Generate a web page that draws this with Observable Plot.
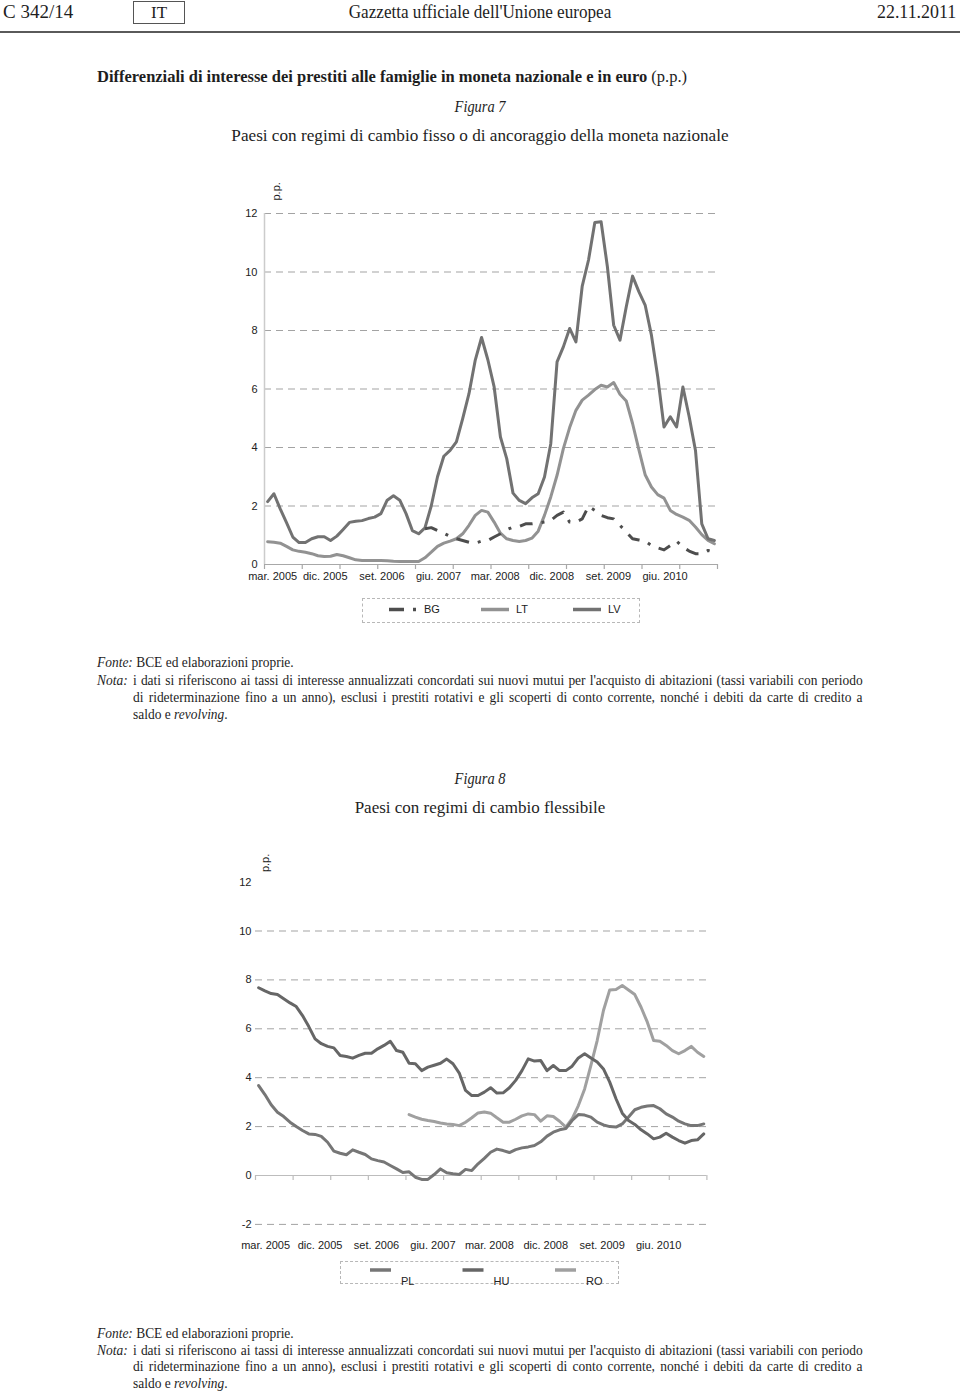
<!DOCTYPE html>
<html><head><meta charset="utf-8">
<script src="https://cdn.jsdelivr.net/npm/d3@7"></script>
<script src="https://cdn.jsdelivr.net/npm/@observablehq/plot@0.6"></script>
<style>
body{margin:0;background:#fff}
#page{position:relative;width:960px;height:1393px;overflow:hidden;font-family:"Liberation Serif","DejaVu Serif",serif;color:#1e1e1e}
.a{position:absolute;white-space:nowrap}
.l{transform-origin:left center}
.r{transform-origin:right center}
.c{left:0;width:960px;text-align:center;transform-origin:center}
.nl{position:absolute;left:133px;width:760px;font-size:14px;line-height:17px;white-space:nowrap;text-align:justify;text-align-last:justify;transform:scaleX(0.96);transform-origin:left center}
.nl.last{text-align:left;text-align-last:left}
.sm{font-size:14px;line-height:17px;transform:scaleX(0.96)}
.chart{position:absolute}
.legend{position:absolute;border:1px dashed #b8b8b8}
.legend svg{position:absolute;left:0;top:0;overflow:visible}
</style></head>
<body><div id="page">
<div class="a l" style="left:3px;top:0;font-size:19px;line-height:23px;transform:scaleX(1.0)">C 342/14</div>
<div class="a" style="left:133px;top:1px;width:50px;height:21px;border:1px solid #555;text-align:center;font-size:17px;line-height:21px">IT</div>
<div class="a c" style="top:0;font-size:19px;line-height:23px;transform:scaleX(0.9)">Gazzetta ufficiale dell'Unione europea</div>
<div class="a r" style="right:4px;top:0;font-size:19px;line-height:23px;transform:scaleX(0.94)">22.11.2011</div>
<div class="a" style="left:0;top:31px;width:960px;height:2px;background:#5a5a5a"></div>

<div class="a l" style="left:97px;top:67px;font-size:17px;line-height:20px;transform:scaleX(0.97)"><b>Differenziali di interesse dei prestiti alle famiglie in moneta nazionale e in euro</b> (p.p.)</div>
<div class="a c" style="top:97px;font-size:16px;line-height:20px;transform:scaleX(0.9)"><i>Figura 7</i></div>
<div class="a c" style="top:126px;font-size:17px;line-height:20px;transform:scaleX(1.01)">Paesi con regimi di cambio fisso o di ancoraggio della moneta nazionale</div>

<div id="chart7" class="chart" style="left:200px;top:185px"></div>
<div id="legend7" class="legend" style="left:362px;top:598px;width:276px;height:23px"></div>

<div class="a l sm" style="left:97px;top:654px"><i>Fonte:</i> BCE ed elaborazioni proprie.</div>
<div class="a l sm" style="left:97px;top:672px"><i>Nota:</i></div>
<div class="nl" style="top:672px">i dati si riferiscono ai tassi di interesse annualizzati concordati sui nuovi mutui per l'acquisto di abitazioni (tassi variabili con periodo</div>
<div class="nl" style="top:689px">di rideterminazione fino a un anno), esclusi i prestiti rotativi e gli scoperti di conto corrente, nonché i debiti da carte di credito a</div>
<div class="nl last" style="top:706px">saldo e <i>revolving</i>.</div>

<div class="a c" style="top:769px;font-size:16px;line-height:20px;transform:scaleX(0.9)"><i>Figura 8</i></div>
<div class="a c" style="top:798px;font-size:17px;line-height:20px;transform:scaleX(1.0)">Paesi con regimi di cambio flessibile</div>

<div id="chart8" class="chart" style="left:200px;top:850px"></div>
<div id="legend8" class="legend" style="left:340px;top:1261px;width:277px;height:21px"></div>

<div class="a l sm" style="left:97px;top:1325px"><i>Fonte:</i> BCE ed elaborazioni proprie.</div>
<div class="a l sm" style="left:97px;top:1342px"><i>Nota:</i></div>
<div class="nl" style="top:1342px">i dati si riferiscono ai tassi di interesse annualizzati concordati sui nuovi mutui per l'acquisto di abitazioni (tassi variabili con periodo</div>
<div class="nl" style="top:1358px">di rideterminazione fino a un anno), esclusi i prestiti rotativi e gli scoperti di conto corrente, nonché i debiti da carte di credito a</div>
<div class="nl last" style="top:1375px">saldo e <i>revolving</i>.</div>
</div>

<script>
// ---------- data: monthly, mar. 2005 .. feb. 2011 (72 months) ----------
const xLabels = ["mar. 2005","dic. 2005","set. 2006","giu. 2007","mar. 2008","dic. 2008","set. 2009","giu. 2010"];
const xLabelMonths = [0, 9, 18, 27, 36, 45, 54, 63];
const xTickMonths = [-0.5, 5.5, 11.5, 17.5, 23.5, 29.5, 35.5, 41.5, 47.5, 53.5, 59.5, 65.5, 71.5];
const yTicks7 = [0, 2, 4, 6, 8, 10, 12];
const yTicks8 = [-2, 0, 2, 4, 6, 8, 10, 12];

// Figura 7
const BG = [null,null,null,null,null,null,null,null,null,null,null,null,null,null,null,null,null,null,null,null,null,null,null,null,null,
  1.22,1.26,1.16,1.07,0.96,0.88,0.82,0.76,0.73,0.80,0.82,0.94,1.05,1.19,1.28,1.30,1.39,1.39,1.42,1.45,1.51,1.68,1.79,1.45,1.45,
  1.56,1.99,1.85,1.68,1.60,1.56,1.34,1.11,0.88,0.84,0.80,0.65,0.57,0.50,0.65,0.80,0.59,0.46,0.37,0.37,0.48,0.42];
const LT = [0.78,0.76,0.73,0.62,0.50,0.45,0.42,0.37,0.30,0.27,0.28,0.34,0.30,0.23,0.16,0.14,0.14,0.14,0.14,0.13,0.11,0.10,0.10,0.10,0.10,
  0.23,0.42,0.62,0.73,0.80,0.88,1.05,1.34,1.68,1.85,1.79,1.45,1.07,0.88,0.82,0.79,0.82,0.90,1.14,1.68,2.31,3.05,3.96,4.68,5.27,
  5.62,5.79,5.98,6.13,6.07,6.22,5.82,5.59,4.82,3.93,3.07,2.65,2.39,2.27,1.85,1.71,1.62,1.51,1.28,1.02,0.82,0.71];
const LV = [2.15,2.42,1.90,1.43,0.94,0.75,0.75,0.88,0.95,0.95,0.82,0.97,1.20,1.44,1.48,1.50,1.57,1.62,1.74,2.20,2.35,2.20,1.74,1.16,1.05,
  1.25,2.00,3.00,3.70,3.90,4.19,4.99,5.84,6.99,7.76,7.00,6.07,4.36,3.62,2.44,2.19,2.08,2.28,2.42,2.99,4.13,6.93,7.44,8.07,7.61,
  9.52,10.41,11.69,11.72,10.18,8.18,7.67,8.81,9.86,9.33,8.87,7.84,6.42,4.70,5.05,4.70,6.07,5.05,3.90,1.39,0.88,0.82];

// Figura 8
const PL = [3.68,3.31,2.89,2.59,2.41,2.18,2.00,1.84,1.70,1.68,1.60,1.36,1.00,0.91,0.85,1.05,0.95,0.86,0.68,0.61,0.55,0.41,0.27,0.12,0.15,
  -0.07,-0.16,-0.16,0.04,0.27,0.11,0.07,0.04,0.25,0.20,0.48,0.70,0.95,1.08,1.02,0.94,1.06,1.13,1.17,1.23,1.38,1.61,1.77,1.87,1.92,
  2.25,2.49,2.47,2.39,2.18,2.07,2.00,1.98,2.11,2.39,2.69,2.79,2.84,2.86,2.73,2.52,2.39,2.22,2.11,2.04,2.04,2.11];
const HU = [7.68,7.55,7.44,7.40,7.23,7.06,6.91,6.54,6.09,5.59,5.39,5.28,5.22,4.91,4.87,4.80,4.91,5.00,5.00,5.18,5.32,5.49,5.11,5.04,4.59,
  4.57,4.29,4.43,4.51,4.59,4.76,4.57,4.19,3.48,3.27,3.27,3.41,3.59,3.37,3.38,3.59,3.89,4.29,4.77,4.68,4.70,4.29,4.50,4.29,4.29,
  4.47,4.81,4.98,4.81,4.64,4.36,3.82,3.14,2.55,2.25,2.09,1.87,1.70,1.50,1.57,1.73,1.57,1.43,1.32,1.43,1.46,1.70];
const RO = [null,null,null,null,null,null,null,null,null,null,null,null,null,null,null,null,null,null,null,null,null,null,null,null,
  2.49,2.39,2.30,2.25,2.21,2.15,2.11,2.09,2.04,2.18,2.36,2.56,2.60,2.55,2.36,2.18,2.18,2.30,2.44,2.52,2.49,2.22,2.44,2.41,2.22,1.98,
  2.32,2.86,3.54,4.50,5.52,6.75,7.59,7.61,7.77,7.59,7.40,6.88,6.27,5.52,5.49,5.32,5.11,4.98,5.11,5.28,5.04,4.87];

// ---------- styles ----------
const series7 = [
  {name: "BG", values: BG, color: "#4d4d4d", dash: "13,9,3,9"},
  {name: "LT", values: LT, color: "#929292", dash: null},
  {name: "LV", values: LV, color: "#727272", dash: null}
];
const series8 = [
  {name: "PL", values: PL, color: "#767676", dash: null},
  {name: "HU", values: HU, color: "#666666", dash: null},
  {name: "RO", values: RO, color: "#a0a0a0", dash: null}
];
const drawOrder7 = ["LT", "LV", "BG"];
const drawOrder8 = ["RO", "PL", "HU"];

const rows = (arr) => arr.map((v, i) => ({i, v})).filter(d => d.v != null);
const sansFont = "'Liberation Sans', Arial, sans-serif";
const axisStyle = {fontFamily: sansFont, fontSize: "11px", color: "#222", background: "transparent", overflow: "visible"};

function makeChart({width, height, margin, yDomain, yTicks, grid, series, order, labelPad, labelDx, firstDx, yPad, ppDx, ppDy, zeroColor, yAxisLine}) {
  const innerH = height - margin[0] - margin[2];
  const tickLen = 5 * (yDomain[1] - yDomain[0]) / innerH;
  const fmt = d => xLabels[xLabelMonths.indexOf(d)];
  const marks = [
    Plot.ruleY(grid, {x1: -0.5, x2: 71.5, stroke: "#a3a3a3", strokeDasharray: "7,5", strokeWidth: 1}),
  ];
  if (yAxisLine) marks.push(Plot.ruleX([-0.5], {y1: yDomain[0], y2: yDomain[1], stroke: "#cccccc", strokeWidth: 1.5}));
  marks.push(
    Plot.ruleY([0], {x1: -0.5, x2: 71.5, stroke: zeroColor, strokeWidth: 1.2}),
    Plot.ruleX(xTickMonths, {y1: 0, y2: -tickLen, stroke: zeroColor, strokeWidth: 1.2}),
    Plot.axisX(xLabelMonths.slice(0, 1), {tickSize: 0, tickPadding: labelPad, dx: firstDx, label: null, tickFormat: fmt, fill: "#222"}),
    Plot.axisX(xLabelMonths.slice(1), {tickSize: 0, tickPadding: labelPad, dx: labelDx, label: null, tickFormat: fmt, fill: "#222"}),
    Plot.axisY(yTicks, {tickSize: 0, tickPadding: yPad, label: null, tickFormat: d => String(d), fill: "#222"}),
    Plot.text(["p.p."], {frameAnchor: "top-left", rotate: -90, dx: ppDx, dy: ppDy, fill: "#222"})
  );
  for (const name of order) {
    const s = series.find(d => d.name === name);
    marks.push(Plot.line(rows(s.values), {x: "i", y: "v", stroke: s.color, strokeWidth: 3,
      strokeDasharray: s.dash || undefined, strokeLinejoin: "round", strokeLinecap: s.dash ? "butt" : "round"}));
  }
  return Plot.plot({
    width, height,
    marginTop: margin[0], marginRight: margin[1], marginBottom: margin[2], marginLeft: margin[3],
    x: {domain: [-0.5, 71.5]},
    y: {domain: yDomain},
    style: axisStyle,
    marks
  });
}

document.getElementById("chart7").append(makeChart({
  width: 560, height: 415, margin: [28, 43, 36, 64], yDomain: [0, 12], yTicks: yTicks7,
  grid: [2, 4, 6, 8, 10, 12], series: series7, order: drawOrder7,
  labelPad: 8, labelDx: 1, firstDx: 5, yPad: 7, ppDx: 8, ppDy: -13, zeroColor: "#a8a8a8", yAxisLine: true
}));
document.getElementById("chart8").append(makeChart({
  width: 560, height: 410, margin: [31.6, 53.6, 36.1, 55], yDomain: [-2, 12], yTicks: yTicks8,
  grid: [-2, 2, 4, 6, 8, 10], series: series8, order: drawOrder8,
  labelPad: 17, labelDx: 5, firstDx: 7, yPad: 4, ppDx: 6, ppDy: -10, zeroColor: "#bdbdbd", yAxisLine: false
}));

// ---------- legends ----------
function legend(el, series, {start, step, swatchLen, swatchY, labelDx, labelY}) {
  const svg = d3.select(el).append("svg").attr("width", 280).attr("height", 30);
  series.forEach((s, k) => {
    const x0 = start + k * step;
    svg.append("line").attr("x1", x0).attr("x2", x0 + swatchLen).attr("y1", swatchY).attr("y2", swatchY)
      .attr("stroke", s.color).attr("stroke-width", 3.5)
      .attr("stroke-dasharray", s.dash ? "15,9,3,9" : null);
    svg.append("text").attr("x", x0 + labelDx).attr("y", labelY).attr("dominant-baseline", "middle")
      .attr("font-family", sansFont).attr("font-size", 11).attr("fill", "#222")
      .text(s.name);
  });
}
legend(document.getElementById("legend7"), series7, {start: 26, step: 92, swatchLen: 28, swatchY: 10.5, labelDx: 35, labelY: 11});
legend(document.getElementById("legend8"), series8, {start: 29, step: 92.5, swatchLen: 21, swatchY: 8, labelDx: 31, labelY: 20});
</script>
</body></html>
